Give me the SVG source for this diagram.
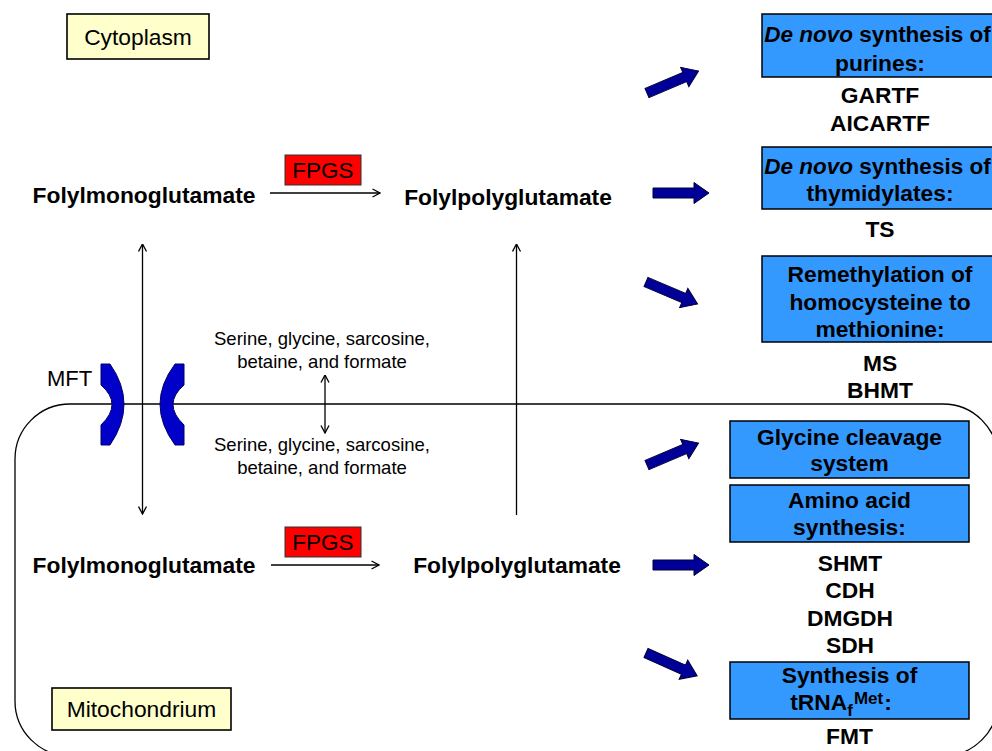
<svg xmlns="http://www.w3.org/2000/svg" width="992" height="751" viewBox="0 0 992 751">
<defs>
<style>
text{font-family:"Liberation Sans",Arial,sans-serif;fill:#000}
.b{font-weight:bold;font-size:22.8px;text-anchor:middle}
.r{font-size:22.8px;text-anchor:middle}
.s{font-size:18.5px;text-anchor:middle}
.yel{fill:#ffffcc;stroke:#000;stroke-width:1.6}
.red{fill:#ff0000;stroke:#333;stroke-width:1}
.blue{fill:#3399ff;stroke:#000;stroke-width:1.5}
.thin{fill:none;stroke:#000;stroke-width:1.3}
.chan{fill:#0000c8;stroke:#000066;stroke-width:1}
.blk{fill:#000099;stroke:#000033;stroke-width:1}
</style>
<marker id="ah" viewBox="0 0 10 10" refX="9.5" refY="5" markerWidth="10" markerHeight="10" markerUnits="userSpaceOnUse" orient="auto-start-reverse">
<path d="M2,1 L9.5,5 L2,9" fill="none" stroke="#000" stroke-width="1.3"/>
</marker>
<path id="barrow" d="M0,-5 L41,-5 L41,-10.5 L56,0 L41,10.5 L41,5 L0,5 Z"/>
</defs>
<rect x="0" y="0" width="992" height="751" fill="#fff"/>

<g id="mitochondrion-membrane">
<rect x="15" y="404" width="983" height="352" rx="55" ry="55" class="thin"/>
</g>

<g id="cytoplasm-label">
<rect x="67" y="14" width="142" height="45" class="yel"/>
<text x="138" y="45" class="r">Cytoplasm</text>
</g>
<g id="mitochondrium-label">
<rect x="52" y="688" width="179" height="42" class="yel"/>
<text x="141.5" y="717" class="r">Mitochondrium</text>
</g>

<g id="connectors">
<line x1="270" y1="193" x2="380" y2="193" class="thin" marker-end="url(#ah)"/>
<line x1="271" y1="565" x2="379" y2="565" class="thin" marker-end="url(#ah)"/>
<line x1="142.5" y1="244" x2="142.5" y2="514" class="thin" marker-start="url(#ah)" marker-end="url(#ah)"/>
<line x1="516.5" y1="515" x2="516.5" y2="244" class="thin" marker-end="url(#ah)"/>
<line x1="325" y1="375" x2="325" y2="433" class="thin" marker-start="url(#ah)" marker-end="url(#ah)"/>
<use href="#barrow" class="blk" transform="translate(647,93) rotate(-23)"/>
<use href="#barrow" class="blk" transform="translate(653,193)"/>
<use href="#barrow" class="blk" transform="translate(646,282) rotate(23)"/>
<use href="#barrow" class="blk" transform="translate(647,465) rotate(-23)"/>
<use href="#barrow" class="blk" transform="translate(653,565)"/>
<use href="#barrow" class="blk" transform="translate(646,653) rotate(24)"/>
</g>

<g id="mft">
<path class="chan" d="M101,364 L110,364 Q138,404 110,445 L101,445 L101,425 Q123,404 101,385 Z"/>
<path class="chan" d="M184,364 L175,364 Q145,404 175,445 L184,445 L184,425 Q162,404 184,385 Z"/>
<text x="47" y="386" font-size="22px">MFT</text>
</g>

<g id="fpgs-top">
<rect x="285" y="155" width="76" height="30" class="red"/>
<text x="323" y="178" class="r" style="font-size:22.5px">FPGS</text>
</g>
<g id="fpgs-bottom">
<rect x="285" y="527" width="76" height="30" class="red"/>
<text x="323" y="550" class="r" style="font-size:22.5px">FPGS</text>
</g>

<g id="folylmono-cyto"><text x="144" y="203" class="b">Folylmonoglutamate</text></g>
<g id="folylpoly-cyto"><text x="508" y="205" class="b">Folylpolyglutamate</text></g>
<g id="folylmono-mito"><text x="144" y="573" class="b">Folylmonoglutamate</text></g>
<g id="folylpoly-mito"><text x="517" y="573" class="b">Folylpolyglutamate</text></g>

<g id="aminos-cyto">
<text x="322" y="345" class="s">Serine, glycine, sarcosine,</text>
<text x="322" y="368" class="s">betaine, and formate</text>
</g>
<g id="aminos-mito">
<text x="322" y="451" class="s">Serine, glycine, sarcosine,</text>
<text x="322" y="474" class="s">betaine, and formate</text>
</g>

<g id="purines">
<rect x="762" y="14" width="236" height="63" class="blue"/>
<text x="877.5" y="42" class="b" style="font-size:22.5px"><tspan font-style="italic">De novo</tspan> synthesis of</text>
<text x="880" y="71" class="b">purines:</text>
<text x="880" y="103" class="b">GARTF</text>
<text x="880" y="131" class="b">AICARTF</text>
</g>
<g id="thymidylates">
<rect x="762" y="147" width="236" height="62" class="blue"/>
<text x="877.5" y="174" class="b" style="font-size:22.5px"><tspan font-style="italic">De novo</tspan> synthesis of</text>
<text x="880" y="201" class="b">thymidylates:</text>
<text x="880" y="237" class="b">TS</text>
</g>
<g id="remethylation">
<rect x="762" y="256" width="236" height="86" class="blue"/>
<text x="880" y="282" class="b">Remethylation of</text>
<text x="880" y="310" class="b">homocysteine to</text>
<text x="880" y="337" class="b">methionine:</text>
<text x="880" y="371" class="b">MS</text>
<text x="880" y="398" class="b">BHMT</text>
</g>
<g id="glycine-cleavage">
<rect x="730" y="421" width="239" height="57" class="blue"/>
<text x="849.5" y="445" class="b">Glycine cleavage</text>
<text x="849.5" y="471" class="b">system</text>
</g>
<g id="amino-acid-synthesis">
<rect x="730" y="485" width="239" height="57" class="blue"/>
<text x="849.5" y="508" class="b">Amino acid</text>
<text x="849.5" y="535" class="b">synthesis:</text>
<text x="850" y="571" class="b">SHMT</text>
<text x="850" y="598" class="b">CDH</text>
<text x="850" y="626" class="b">DMGDH</text>
<text x="850" y="653" class="b">SDH</text>
</g>
<g id="trna-synthesis">
<rect x="730" y="662" width="239" height="57" class="blue"/>
<text x="849.5" y="683" class="b">Synthesis of</text>
<text x="841" y="710" class="b">tRNA<tspan font-size="17px" dy="6">f</tspan><tspan font-size="17px" dy="-12" dx="1">Met</tspan><tspan dy="6" dx="1">:</tspan></text>
<text x="849.5" y="744" class="b">FMT</text>
</g>
</svg>
